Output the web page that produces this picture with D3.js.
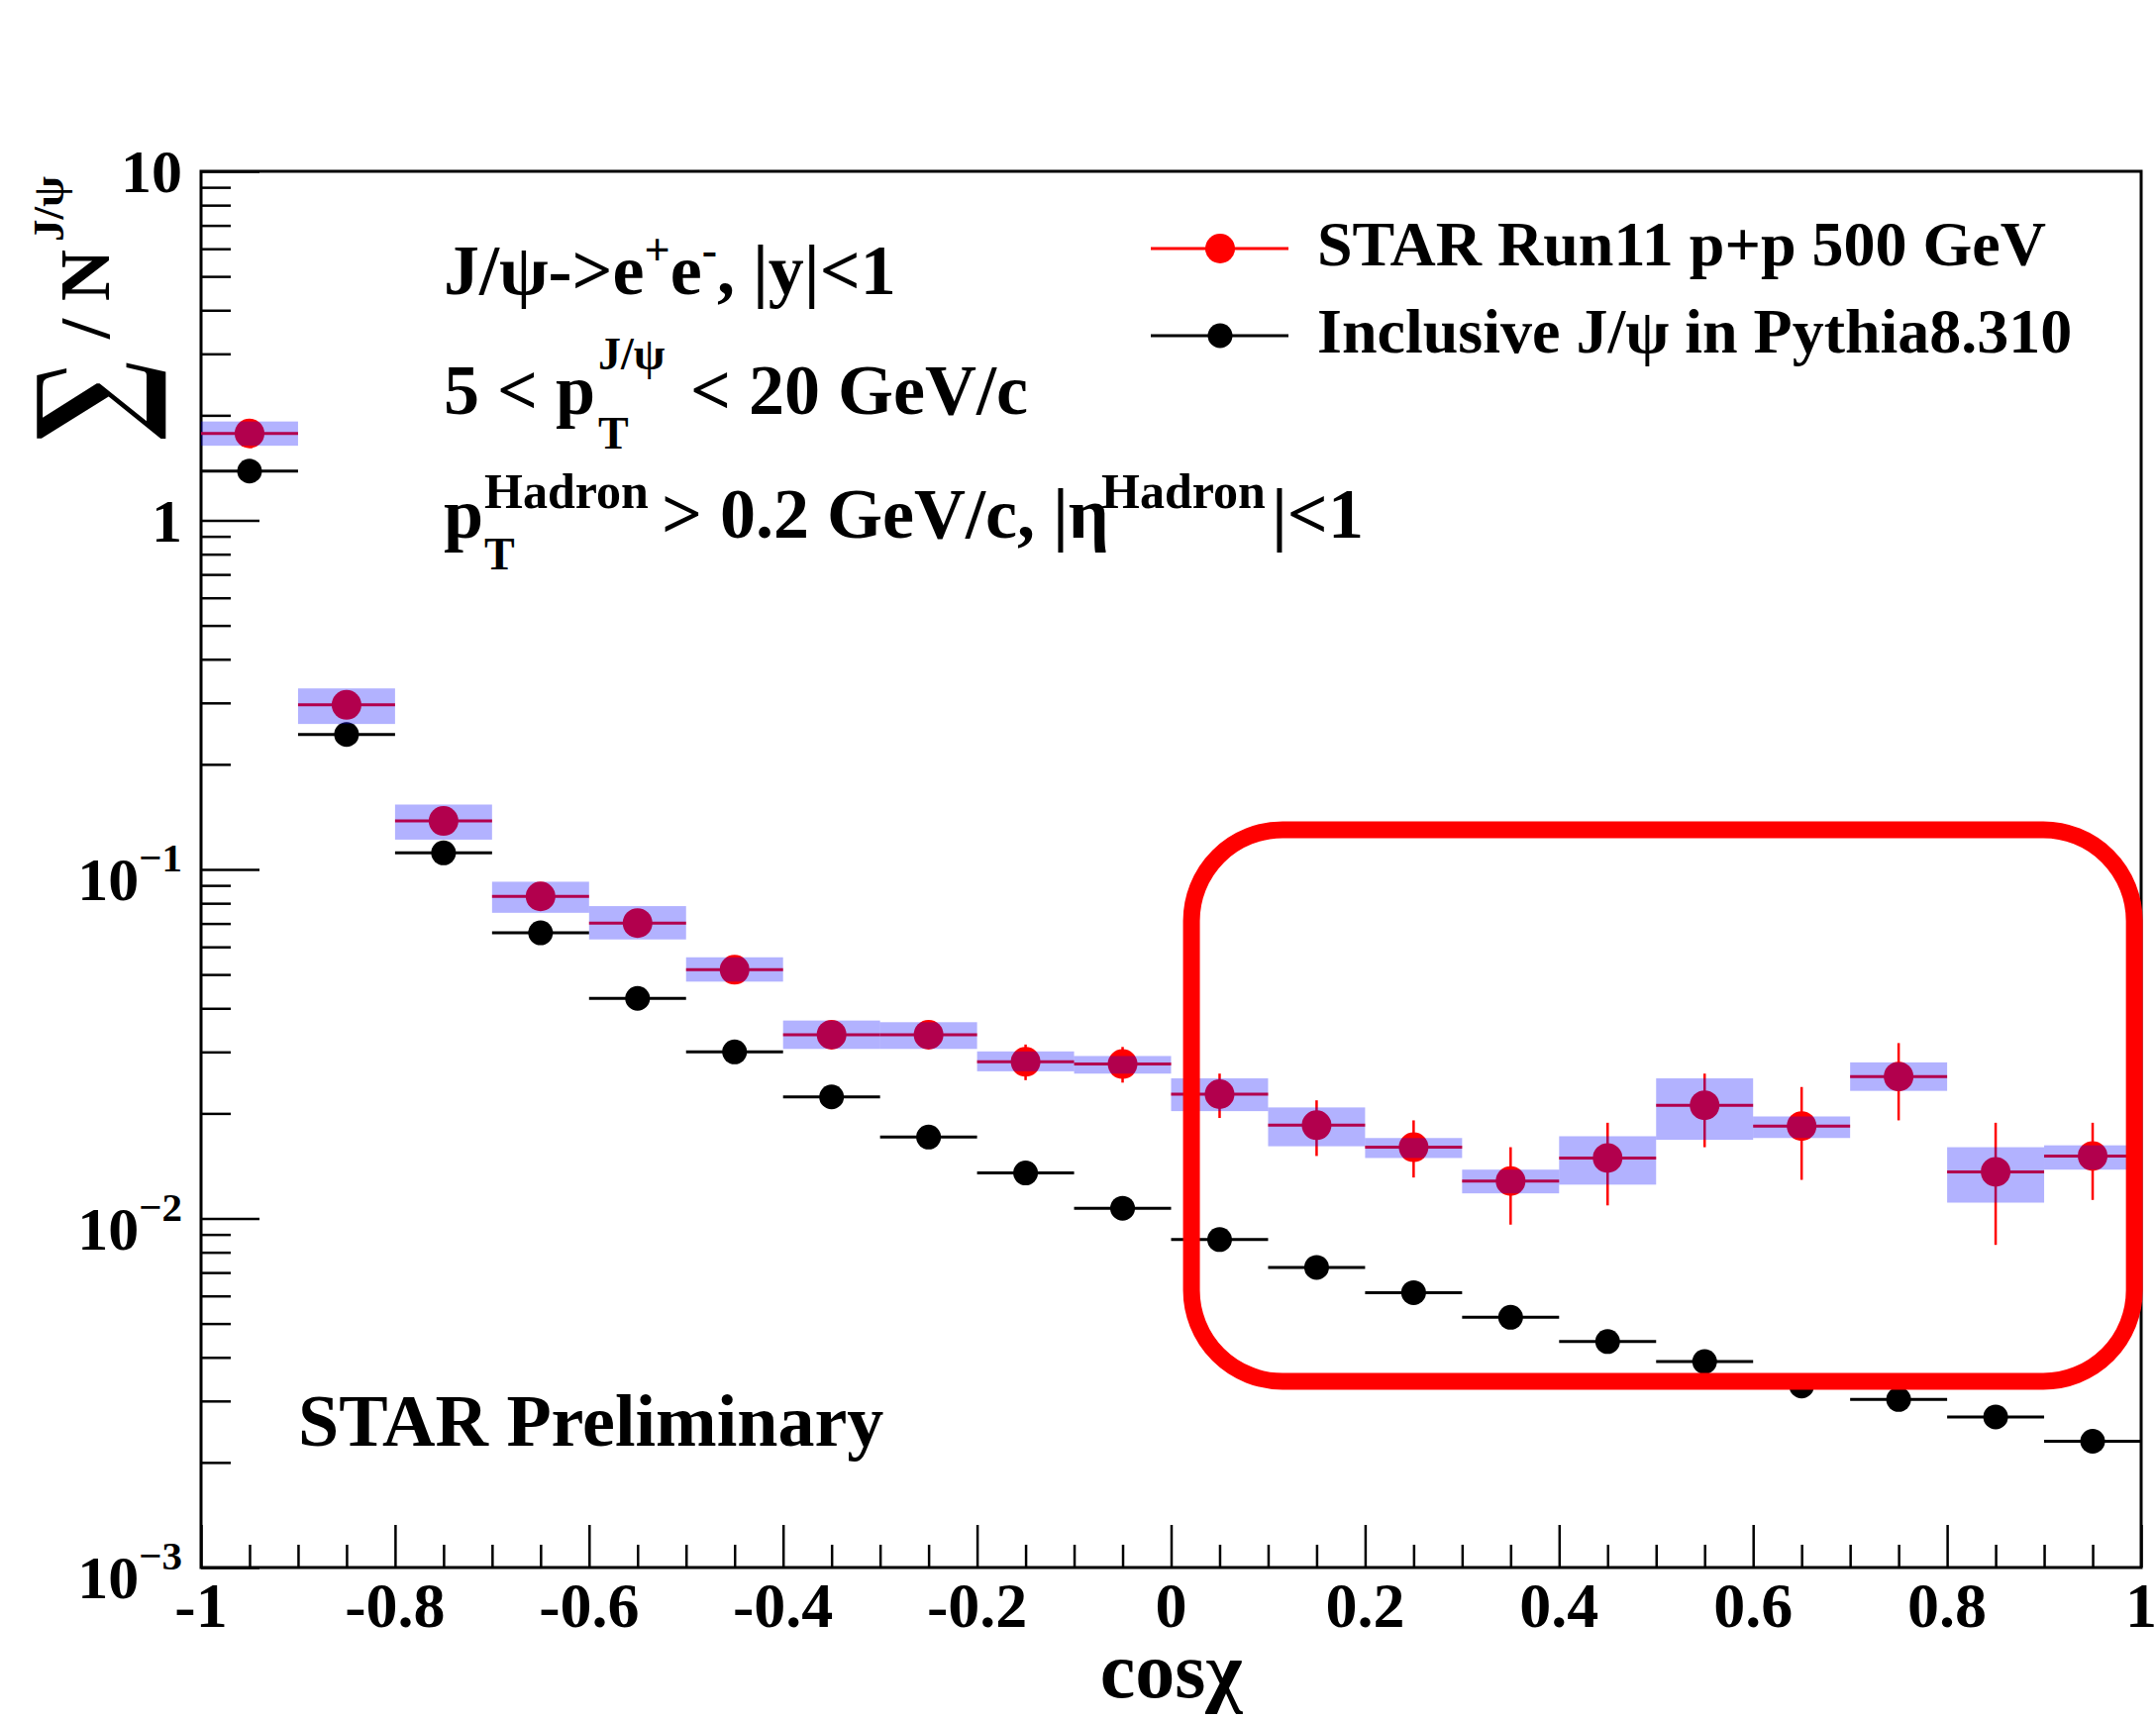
<!DOCTYPE html>
<html>
<head>
<meta charset="utf-8" />
<title>cos chi - J/psi hadron correlation</title>
<script src="https://d3js.org/d3.v7.min.js"></script>
<style>
  body { margin: 0; background: #fff; }
  text { font-family: "Liberation Serif", "Times New Roman", serif; font-weight: bold; fill: #000; }
</style>
</head>
<body>
<svg id="chart"></svg>
<script>
// bins in cos(chi), width 0.1
const binCenters = [-0.95, -0.85, -0.75, -0.65, -0.55, -0.45, -0.35, -0.25, -0.15, -0.05,
                    0.05, 0.15, 0.25, 0.35, 0.45, 0.55, 0.65, 0.75, 0.85, 0.95];
const binHalfWidth = 0.05;

// STAR Run11 p+p 500 GeV
const starValues = [1.775, 0.296, 0.1377, 0.0837, 0.0702, 0.0516, 0.0336, 0.0336, 0.0281, 0.0277,
                    0.0227, 0.0185, 0.0160, 0.0128, 0.0149, 0.0211, 0.0184, 0.0255, 0.0136, 0.0151];
const starStatLow  = [1.72, 0.287, 0.133, 0.0805, 0.0672, 0.0492, 0.0308, 0.0308, 0.0249, 0.0245,
                      0.0194, 0.0151, 0.0131, 0.0096, 0.0109, 0.0160, 0.0129, 0.0191, 0.0084, 0.0113];
const starStatHigh = [1.83, 0.305, 0.142, 0.087, 0.0732, 0.0541, 0.0364, 0.0364, 0.0315, 0.0310,
                      0.0260, 0.0218, 0.0191, 0.0160, 0.0188, 0.0260, 0.0238, 0.0318, 0.0188, 0.0188];
const starSysLow  = [1.636, 0.261, 0.1217, 0.0751, 0.0630, 0.0477, 0.0306, 0.0306, 0.0264, 0.0260,
                     0.0203, 0.0161, 0.0149, 0.0118, 0.0125, 0.0168, 0.0170, 0.0232, 0.0111, 0.0138];
const starSysHigh = [1.92, 0.330, 0.1534, 0.0922, 0.0785, 0.0560, 0.0369, 0.0365, 0.0301, 0.0292,
                     0.0252, 0.0208, 0.0170, 0.0138, 0.0172, 0.0252, 0.0196, 0.0280, 0.0160, 0.0162];

// Inclusive J/psi in Pythia8.310
const pythiaValues = [1.384, 0.2437, 0.1115, 0.0658, 0.0427, 0.0300, 0.0223, 0.0171, 0.0135, 0.0107,
                      0.0087, 0.00724, 0.00613, 0.00521, 0.00444, 0.00389, 0.00331, 0.00303, 0.0027, 0.0023];

// axes
const xMajorTicks = [-1, -0.8, -0.6, -0.4, -0.2, 0, 0.2, 0.4, 0.6, 0.8, 1];
const xTickLabels = ["-1", "-0.8", "-0.6", "-0.4", "-0.2", "0", "0.2", "0.4", "0.6", "0.8", "1"];
const yMajorTicks = [1e-3, 1e-2, 1e-1, 1, 10];
const yTickBase = ["10", "10", "10", "1", "10"];
const yTickExp  = ["-3", "-2", "-1", "", ""];

const legendLabels = ["STAR Run11 p+p 500 GeV", "Inclusive J/\u03c8 in Pythia8.310"];

// highlighted region (data coordinates)
const boxX = [0.021, 0.993];
const boxY = [0.003415, 0.1299];

const W = 2177, H = 1737;
const pLeft = 203, pRight = 2162, pTop = 173, pBottom = 1583;

const svg = d3.select("#chart").attr("width", W).attr("height", H);
svg.append("rect").attr("width", W).attr("height", H).attr("fill", "#fff");

const x = d3.scaleLinear().domain([-1, 1]).range([pLeft, pRight]);
const y = d3.scaleLog().domain([1e-3, 10]).range([pBottom, pTop]);

// ticks (inward, ROOT style)
const xMinor = d3.range(-1, 1.0001, 0.05).filter(v => Math.abs(v * 5 - Math.round(v * 5)) > 1e-6);
svg.append("g").attr("transform", `translate(0,${pBottom})`)
  .call(d3.axisBottom(x).tickValues(xMajorTicks).tickSize(-43).tickFormat(""))
  .call(g => g.select(".domain").remove())
  .selectAll("line").attr("stroke-width", 2.5);
svg.append("g").attr("transform", `translate(0,${pBottom})`)
  .call(d3.axisBottom(x).tickValues(xMinor).tickSize(-23).tickFormat(""))
  .call(g => g.select(".domain").remove())
  .selectAll("line").attr("stroke-width", 2.5);

const yMinor = [];
[1e-3, 1e-2, 1e-1, 1].forEach(d => { for (let k = 2; k <= 9; k++) yMinor.push(d * k); });
svg.append("g").attr("transform", `translate(${pLeft},0)`)
  .call(d3.axisLeft(y).tickValues(yMajorTicks).tickSize(-59).tickFormat(""))
  .call(g => g.select(".domain").remove())
  .selectAll("line").attr("stroke-width", 2.5);
svg.append("g").attr("transform", `translate(${pLeft},0)`)
  .call(d3.axisLeft(y).tickValues(yMinor).tickSize(-30).tickFormat(""))
  .call(g => g.select(".domain").remove())
  .selectAll("line").attr("stroke-width", 2.5);

// frame
svg.append("rect").attr("x", pLeft).attr("y", pTop)
  .attr("width", pRight - pLeft).attr("height", pBottom - pTop)
  .attr("fill", "none").attr("stroke", "#000").attr("stroke-width", 3);

// tick labels
svg.append("g").selectAll("text").data(xMajorTicks).join("text")
  .attr("x", d => x(d)).attr("y", 1643)
  .attr("text-anchor", "middle").attr("font-size", 64)
  .text((d, i) => xTickLabels[i]);

const yl = svg.append("g").selectAll("text").data(yMajorTicks).join("text")
  .attr("x", 184)
  .attr("y", (d, i) => y(d) + (yTickExp[i] ? 31 : 21))
  .attr("text-anchor", "end").attr("font-size", 62);
yl.append("tspan").text((d, i) => yTickBase[i]);
yl.append("tspan").attr("font-size", 41).attr("dy", (d, i) => yTickExp[i] ? -29 : 0)
  .text((d, i) => yTickExp[i] ? yTickExp[i].replace("-", "\u2212") : "");

// axis titles
svg.append("text").attr("x", x(0)).attr("y", 1714)
  .attr("text-anchor", "middle").attr("font-size", 80).text("cos\u03c7");

svg.append("text").attr("transform", "translate(140,444) rotate(-90) scale(0.8,1.08)")
  .style("font-family", "'DejaVu Serif', serif").attr("font-size", 132).text("\u2211");
svg.append("text").attr("transform", "translate(110,342) rotate(-90)")
  .attr("font-size", 72).text("/ N");
svg.append("text").attr("transform", "translate(64,244) rotate(-90)")
  .attr("font-size", 45).text("J/\u03c8");

// pythia points
const gp = svg.append("g");
gp.selectAll("line").data(pythiaValues).join("line")
  .attr("x1", (d, i) => x(binCenters[i] - binHalfWidth))
  .attr("x2", (d, i) => x(binCenters[i] + binHalfWidth))
  .attr("y1", d => y(d)).attr("y2", d => y(d))
  .attr("stroke", "#000").attr("stroke-width", 3);
gp.selectAll("circle").data(pythiaValues).join("circle")
  .attr("cx", (d, i) => x(binCenters[i])).attr("cy", d => y(d))
  .attr("r", 12.5).attr("fill", "#000");

// STAR points
const gs = svg.append("g");
gs.selectAll("line.xe").data(starValues).join("line").attr("class", "xe")
  .attr("x1", (d, i) => x(binCenters[i] - binHalfWidth))
  .attr("x2", (d, i) => x(binCenters[i] + binHalfWidth))
  .attr("y1", d => y(d)).attr("y2", d => y(d))
  .attr("stroke", "#ff0000").attr("stroke-width", 3);
gs.selectAll("line.ye").data(starValues).join("line").attr("class", "ye")
  .attr("x1", (d, i) => x(binCenters[i])).attr("x2", (d, i) => x(binCenters[i]))
  .attr("y1", (d, i) => y(starStatHigh[i])).attr("y2", (d, i) => y(starStatLow[i]))
  .attr("stroke", "#ff0000").attr("stroke-width", 2.5);
gs.selectAll("circle").data(starValues).join("circle")
  .attr("cx", (d, i) => x(binCenters[i])).attr("cy", d => y(d))
  .attr("r", 15).attr("fill", "#ff0000");

// systematic boxes (translucent blue, drawn over the points)
svg.append("g").selectAll("rect").data(starValues).join("rect")
  .attr("x", (d, i) => x(binCenters[i] - binHalfWidth))
  .attr("width", (d, i) => x(binCenters[i] + binHalfWidth) - x(binCenters[i] - binHalfWidth))
  .attr("y", (d, i) => y(starSysHigh[i]))
  .attr("height", (d, i) => y(starSysLow[i]) - y(starSysHigh[i]))
  .attr("fill", "rgba(0,0,255,0.3)");

// text annotations
const t1 = svg.append("text").attr("x", 448).attr("y", 297).attr("font-size", 72);
t1.append("tspan").text("J/\u03c8->e");
t1.append("tspan").attr("font-size", 46).attr("dy", -29).text("+");
t1.append("tspan").attr("dy", 29).text("e");
t1.append("tspan").attr("font-size", 46).attr("dy", -29).text("-");
t1.append("tspan").attr("dy", 29).text(", |y|<1");

const t2 = svg.append("g").attr("font-size", 72);
t2.append("text").attr("x", 448).attr("y", 418).text("5 < p");
t2.append("text").attr("x", 604).attr("y", 373).attr("font-size", 46).text("J/\u03c8");
t2.append("text").attr("x", 604).attr("y", 453).attr("font-size", 46).text("T");
t2.append("text").attr("x", 697).attr("y", 418).text("< 20 GeV/c");

const t3 = svg.append("g").attr("font-size", 72);
t3.append("text").attr("x", 448).attr("y", 543).text("p");
t3.append("text").attr("x", 489).attr("y", 513).attr("font-size", 50).text("Hadron");
t3.append("text").attr("x", 489).attr("y", 575).attr("font-size", 46).text("T");
t3.append("text").attr("x", 668).attr("y", 543).text("> 0.2 GeV/c, |\u03b7");
t3.append("text").attr("x", 1112).attr("y", 513).attr("font-size", 50).text("Hadron");
t3.append("text").attr("x", 1284).attr("y", 543).text("|<1");

svg.append("text").attr("x", 301).attr("y", 1460).attr("font-size", 74).text("STAR Preliminary");

// legend
const legY = [251, 339];
const legColor = ["#ff0000", "#000"];
const legR = [15, 12.5];
const lg = svg.append("g");
legendLabels.forEach((lab, i) => {
  lg.append("line").attr("x1", 1162).attr("x2", 1301).attr("y1", legY[i]).attr("y2", legY[i])
    .attr("stroke", legColor[i]).attr("stroke-width", 3);
  lg.append("circle").attr("cx", 1232).attr("cy", legY[i]).attr("r", legR[i]).attr("fill", legColor[i]);
  lg.append("text").attr("x", 1330).attr("y", legY[i] + 17).attr("font-size", 64).text(lab);
});

// highlight box
svg.append("rect")
  .attr("x", x(boxX[0])).attr("y", y(boxY[1]))
  .attr("width", x(boxX[1]) - x(boxX[0])).attr("height", y(boxY[0]) - y(boxY[1]))
  .attr("rx", 92).attr("ry", 92)
  .attr("fill", "none").attr("stroke", "#ff0000").attr("stroke-width", 17);
</script>
</body>
</html>
